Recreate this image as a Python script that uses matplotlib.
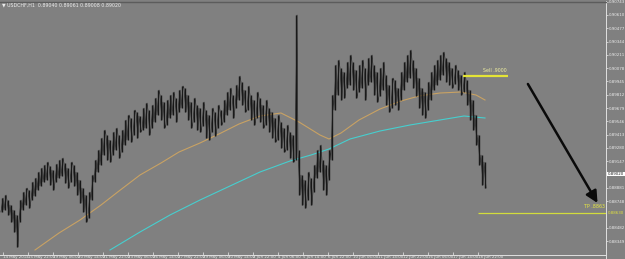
import matplotlib
matplotlib.use("Agg")
import matplotlib.pyplot as plt
import matplotlib.transforms as mtransforms
from matplotlib.lines import Line2D
import numpy as np

# ---- data (USDCHF H1, compressed bars) ----
bar_high = [0.8878, 0.8881, 0.8876, 0.8871, 0.8866, 0.8861, 0.8876, 0.8884, 0.8888, 0.8886,
            0.8894, 0.8898, 0.8904, 0.8908, 0.8911, 0.8914, 0.8910, 0.8906, 0.8912, 0.8916,
            0.8918, 0.8913, 0.8908, 0.8914, 0.8911, 0.8904, 0.8896, 0.8888, 0.8881, 0.8884,
            0.8901, 0.8916, 0.8926, 0.8938, 0.8946, 0.8941, 0.8936, 0.8944, 0.8948, 0.8941,
            0.8946, 0.8956, 0.8961, 0.8958, 0.8966, 0.8964, 0.8960, 0.8968, 0.8973, 0.8966,
            0.8971, 0.8978, 0.8986, 0.8981, 0.8974, 0.8976, 0.8981, 0.8984, 0.8978, 0.8986,
            0.8990, 0.8988, 0.8981, 0.8974, 0.8978, 0.8971, 0.8968, 0.8974, 0.8966, 0.8961,
            0.8968, 0.8964, 0.8971, 0.8966, 0.8976, 0.8984, 0.8988, 0.8981, 0.8991, 0.9000,
            0.8994, 0.8986, 0.8990, 0.8981, 0.8976, 0.8984, 0.8978, 0.8971, 0.8976, 0.8968,
            0.8964, 0.8958, 0.8961, 0.8954, 0.8948, 0.8951, 0.8944, 0.8941, 0.9061, 0.8926,
            0.8901, 0.8896, 0.8904, 0.8898, 0.8911, 0.8926, 0.8931, 0.8916, 0.8911, 0.8926,
            0.8981, 0.9011, 0.9016, 0.9008, 0.9004, 0.9014, 0.9021, 0.9014, 0.9006, 0.9011,
            0.9016, 0.9008, 0.9018, 0.9021, 0.9011, 0.9004, 0.9008, 0.9014, 0.9001, 0.8991,
            0.8998, 0.8996, 0.8988, 0.9004, 0.9014, 0.9021, 0.9026, 0.9016, 0.9008, 0.8998,
            0.8988, 0.8984, 0.8994, 0.9004, 0.9011, 0.9016, 0.9021, 0.9024, 0.9018, 0.9014,
            0.9008, 0.9011, 0.9006, 0.9001, 0.9004, 0.8996, 0.8986, 0.8976, 0.8961, 0.8941,
            0.8921, 0.8914]
bar_low = [0.8864, 0.8866, 0.8861, 0.8854, 0.8844, 0.8829, 0.8854, 0.8866, 0.8871, 0.8868,
           0.8876, 0.8880, 0.8886, 0.8890, 0.8894, 0.8896, 0.8891, 0.8886, 0.8894, 0.8898,
           0.8900, 0.8893, 0.8888, 0.8894, 0.8890, 0.8881, 0.8873, 0.8864, 0.8854, 0.8858,
           0.8876, 0.8894, 0.8904, 0.8911, 0.8921, 0.8916, 0.8914, 0.8921, 0.8926, 0.8918,
           0.8924, 0.8931, 0.8936, 0.8934, 0.8941, 0.8938, 0.8944, 0.8946, 0.8948, 0.8941,
           0.8948, 0.8954, 0.8961, 0.8956, 0.8948, 0.8951, 0.8958, 0.8961, 0.8954, 0.8964,
           0.8968, 0.8964, 0.8956, 0.8948, 0.8954, 0.8946, 0.8944, 0.8950, 0.8938, 0.8936,
           0.8944, 0.8940, 0.8948, 0.8951, 0.8954, 0.8961, 0.8966, 0.8958, 0.8968, 0.8976,
           0.8971, 0.8964, 0.8966, 0.8956, 0.8951, 0.8958, 0.8954, 0.8948, 0.8951, 0.8944,
           0.8938, 0.8934, 0.8936, 0.8928, 0.8924, 0.8926, 0.8918, 0.8914, 0.8916, 0.8881,
           0.8871, 0.8868, 0.8876, 0.8871, 0.8884, 0.8898, 0.8904, 0.8886, 0.8881, 0.8896,
           0.8916, 0.8966, 0.8981, 0.8976, 0.8978, 0.8988, 0.8991, 0.8986, 0.8978, 0.8984,
           0.8988, 0.8976, 0.8991, 0.8994, 0.8981, 0.8974, 0.8980, 0.8986, 0.8971, 0.8964,
           0.8968, 0.8971, 0.8966, 0.8976, 0.8986, 0.8994, 0.8998, 0.8988, 0.8980, 0.8968,
           0.8961, 0.8958, 0.8966, 0.8976, 0.8986, 0.8991, 0.8996, 0.9001, 0.8994, 0.8991,
           0.8988, 0.8992, 0.8986, 0.8981, 0.8984, 0.8971, 0.8956, 0.8946, 0.8931, 0.8911,
           0.8891, 0.8888]

ma_fast_idx = [11, 19, 26, 33, 39, 46, 53, 59, 66, 73, 79, 86, 93, 99, 106, 109, 113, 119,
               126, 133, 139, 146, 153, 158, 161]
ma_fast = [0.8826, 0.8843, 0.8856, 0.8871, 0.8885, 0.8901, 0.8913, 0.8924, 0.8933, 0.8943,
           0.8952, 0.8960, 0.8963, 0.8954, 0.8941, 0.8937, 0.8943, 0.8956, 0.8967, 0.8975,
           0.8980, 0.8983, 0.8984, 0.8981, 0.8976]
ma_slow_idx = [36, 46, 56, 66, 76, 86, 96, 103, 109, 116, 126, 136, 146, 154, 161]
ma_slow = [0.8826, 0.8844, 0.8861, 0.8876, 0.8890, 0.8904, 0.8915, 0.8921, 0.8927, 0.8937,
           0.8945, 0.8951, 0.8956, 0.8960, 0.8958]

price_ticks = [0.90743, 0.90610, 0.90477, 0.90344, 0.90211, 0.90078, 0.89945, 0.89812,
               0.89679, 0.89546, 0.89413, 0.89280, 0.89147, 0.88881, 0.88748,
               0.88482, 0.88349]
date_labels = ["14 May 2014", "15 May 22:00", "19 May 06:00", "20 May 14:00", "21 May 22:00",
               "23 May 06:00", "26 May 14:00", "27 May 22:00", "29 May 06:00", "30 May 14:00",
               "2 Jun 22:00", "4 Jun 06:00", "5 Jun 14:00", "6 Jun 22:00", "10 Jun 06:00",
               "11 Jun 14:00", "12 Jun 22:00", "16 Jun 06:00", "17 Jun 14:00", "18 Jun 22:00"]
bars_per_label = 25 / 3

last_price = 0.89020
sell_price = 0.9000
tp_price = 0.8863
sell_span = (153.7, 168.7)
tp_span = (158.7, 201.5)
arrow_from = (175.3, 0.8992)
arrow_to = (198.5, 0.8873)
header = "\u25bc USDCHF,H1  0.89040 0.89061 0.89008 0.89020"

BG = "#808080"
TXT = "#ececec"

fig = plt.figure(figsize=(6.25, 2.59), dpi=100, facecolor=BG)
ax = fig.add_axes([0, 4.5 / 259, 606 / 625, 253.0 / 259])
ax.set_facecolor(BG)
n = len(bar_high)
idx = np.arange(n)
ax.set_xlim(-2 / 3, 604 / 3)
ax.set_ylim(0.88215, 0.90745)

# moving averages
ax.plot(ma_fast_idx, ma_fast, color="#c9a263", lw=0.8, zorder=2)
ax.plot(ma_slow_idx, ma_slow, color="#46cfcf", lw=0.8, zorder=2)

# bars: high-low ranges plus a trace through them (up bars low->high, down bars high->low)
ax.vlines(idx, bar_low, bar_high, color="#161616", lw=1.0, zorder=3)
zx, zy = [], []
for i in range(n):
    up = i == 0 or bar_high[i] >= bar_high[i - 1]
    a, b = (bar_low[i], bar_high[i]) if up else (bar_high[i], bar_low[i])
    zx += [i - 0.35, i + 0.35]
    zy += [a, b]
ax.plot(zx, zy, color="#1e1e1e", lw=0.45, zorder=3)

# sell / tp lines
ax.hlines(sell_price, *sell_span, color="#e4e436", lw=1.6, zorder=4)
ax.text(sell_span[1] - 0.3, sell_price + 0.00025, "Sell .9000", color="#f0f0a0",
        fontsize=3.4, ha="right", va="bottom", zorder=5)
ax.hlines(tp_price, *tp_span, color="#d2dc3c", lw=0.9, zorder=4)
ax.text(tp_span[1] - 0.4, tp_price + 0.00045, "TP .8863", color="#e8e840",
        fontsize=3.4, ha="right", va="bottom", zorder=5)

# arrow
ax.annotate("", xy=arrow_to, xytext=arrow_from,
            arrowprops=dict(arrowstyle="-|>,head_length=0.7,head_width=0.35",
                            color="#0a0a0a", lw=1.8, shrinkA=0, shrinkB=0), zorder=6)

# axes styling
ax.spines["left"].set_visible(False)
ax.spines["top"].set_color("#5c5c5c")
ax.spines["top"].set_linewidth(1.0)
ax.spines["right"].set_color("#e0e0e0")
ax.spines["right"].set_linewidth(0.7)
ax.spines["bottom"].set_color("#e0e0e0")
ax.spines["bottom"].set_linewidth(0.7)

ax.yaxis.tick_right()
ax.set_yticks(price_ticks)
ax.set_yticklabels([f"{v:.5f}" for v in price_ticks])
ax.tick_params(axis="y", colors=TXT, labelsize=2.9, length=1.5, width=0.5, pad=0.6)

xt = [1 / 3 + k * bars_per_label for k in range(len(date_labels))]
ax.set_xticks(xt)
ax.set_xticklabels(date_labels, ha="left")
ax.tick_params(axis="x", colors=TXT, labelsize=2.9, length=2, width=0.5, pad=0.3,
               direction="in")

# current price & tp labels on price scale
trans = mtransforms.blended_transform_factory(ax.transAxes, ax.transData)
ax.text(1.003, last_price, f"{last_price:.5f}", transform=trans, fontsize=2.9,
        color="#202020", va="center", ha="left", clip_on=False, zorder=10,
        bbox=dict(boxstyle="square,pad=0.12", fc="white", ec="none"))
ax.text(1.003, tp_price, f"{tp_price:.5f}", transform=trans, fontsize=2.9,
        color="#e0e040", va="center", ha="left", clip_on=False, zorder=10)

# header
fig.text(2 / 625, 1 - 4.8 / 259, header, color=TXT, fontsize=3.4, ha="left", va="center")

# right axis extension to bottom
fig.add_artist(Line2D([606 / 625, 606 / 625], [0, 4.5 / 259], color="#e0e0e0", lw=0.7))

fig.savefig("out.png", dpi=100, facecolor=BG)
